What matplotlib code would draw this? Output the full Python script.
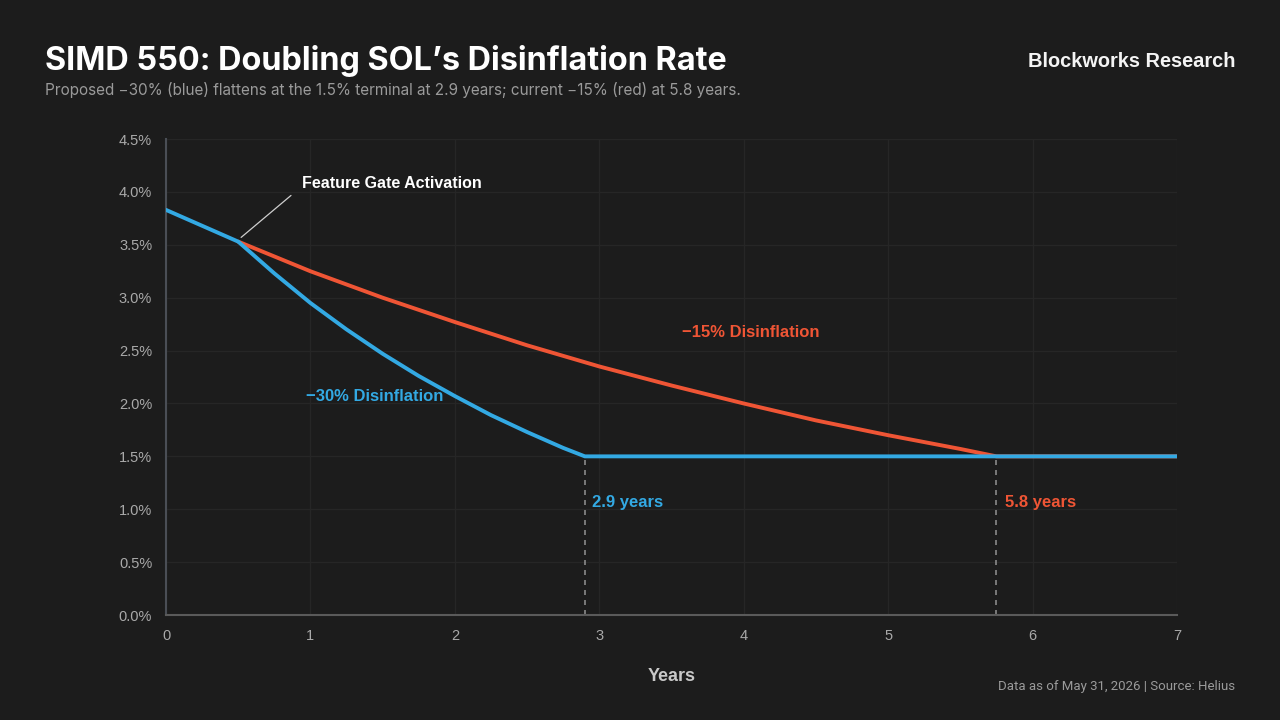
import numpy as np
import matplotlib.pyplot as plt
from matplotlib.ticker import FuncFormatter

# -----------------------------
# DATA
# -----------------------------
blue_years = [0.0, 0.5, 0.75, 1.0, 1.25, 1.5, 1.75, 2.0, 2.25, 2.5, 2.75, 2.9, 7.0]
blue_rate = [3.83, 3.53, 3.23, 2.95, 2.70, 2.47, 2.26, 2.07, 1.89, 1.73, 1.58, 1.50, 1.50]

red_years = [0.5, 1.0, 1.5, 2.0, 2.5, 3.0, 3.5, 4.0, 4.5, 5.0, 5.5, 5.75, 7.0]
red_rate = [3.53, 3.25, 3.00, 2.77, 2.55, 2.35, 2.17, 2.00, 1.84, 1.70, 1.57, 1.50, 1.50]

activation = (0.5, 3.53)
terminal_rate = 1.5
blue_hit = 2.9
red_hit = 5.75

x_ticks = [0, 1, 2, 3, 4, 5, 6, 7]
y_ticks = [0.0, 0.5, 1.0, 1.5, 2.0, 2.5, 3.0, 3.5, 4.0, 4.5]

BG = "#1c1c1c"
BLUE = "#33a9e3"
RED = "#ef5535"
GRID = "#262626"
TICK = "#a9a9a9"

plt.rcParams["font.family"] = ["Liberation Sans", "DejaVu Sans"]

fig = plt.figure(figsize=(12.8, 7.2), dpi=100, facecolor=BG)
ax = fig.add_axes([0.1297, 0.1458, 0.7898, 0.6611])
ax.set_facecolor(BG)

# -----------------------------
# LINES
# -----------------------------
ax.plot(red_years, red_rate, color=RED, lw=2.8, solid_capstyle="round", zorder=3)
ax.plot(blue_years, blue_rate, color=BLUE, lw=2.8, solid_capstyle="round", zorder=4)

# dashed markers down to the axis
for xv in (blue_hit, red_hit):
    ax.plot([xv, xv], [0, terminal_rate], color="#8a8a8a", lw=1.2,
            ls=(0, (3, 3)), zorder=2)

# -----------------------------
# AXES STYLE
# -----------------------------
ax.set_xlim(0, 7)
ax.set_ylim(0, 4.5)
ax.set_xticks(x_ticks)
ax.set_yticks(y_ticks)
ax.yaxis.set_major_formatter(FuncFormatter(lambda v, _: f"{v:.1f}%"))
ax.grid(True, color=GRID, lw=0.9)
ax.set_axisbelow(True)
ax.tick_params(colors=TICK, labelsize=10.5, length=0, pad=10)
for side in ("top", "right"):
    ax.spines[side].set_visible(False)
ax.spines["left"].set_color("#4a4e55")
ax.spines["bottom"].set_color("#5a5a5a")
ax.spines["left"].set_linewidth(1.5)
ax.spines["bottom"].set_linewidth(1.5)

ax.set_xlabel("Years", color="#c8c8c8", fontsize=13, fontweight="bold", labelpad=18)

# -----------------------------
# ANNOTATIONS
# -----------------------------
ax.annotate("Feature Gate Activation", xy=(activation[0] + 0.02, activation[1] + 0.04),
            xytext=(0.94, 4.08), color="white", fontsize=11.5, fontweight="bold",
            va="center", ha="left",
            arrowprops=dict(arrowstyle="-", color="#cfcfcf", lw=0.9,
                            shrinkA=0, shrinkB=0, relpos=(-0.06, -0.3)))

ax.text(0.97, 2.07, "\u221230% Disinflation", color=BLUE, fontsize=12,
        fontweight="bold", va="center")
ax.text(3.57, 2.67, "\u221215% Disinflation", color=RED, fontsize=12,
        fontweight="bold", va="center")
ax.text(blue_hit + 0.05, 1.06, "2.9 years", color=BLUE, fontsize=12,
        fontweight="bold", va="center")
ax.text(red_hit + 0.06, 1.06, "5.8 years", color=RED, fontsize=12,
        fontweight="bold", va="center")

# -----------------------------
# HEADER / FOOTER
# -----------------------------
fig.text(0.035, 0.915, "SIMD 550: Doubling SOL\u2019s Disinflation Rate", color="white",
         fontsize=23.3, fontweight="bold", family=["Inter", "DejaVu Sans"], va="center")
fig.text(0.035, 0.875, "Proposed \u221230% (blue) flattens at the 1.5% terminal at 2.9 years; "
         "current \u221215% (red) at 5.8 years.", color="#9a9a9a", fontsize=11,
         family=["Inter", "DejaVu Sans"], va="center")
fig.text(0.965, 0.915, "Blockworks Research", color="#f4f4f4", fontsize=14.4,
         fontweight="bold", family=["Liberation Sans", "DejaVu Sans"], ha="right", va="center")
fig.text(0.965, 0.047, "Data as of May 31, 2026 | Source: Helius", color="#9a9a9a",
         fontsize=9.5, family=["Roboto", "DejaVu Sans"], ha="right", va="center")

fig.savefig("out.png", dpi=100, facecolor=BG)
